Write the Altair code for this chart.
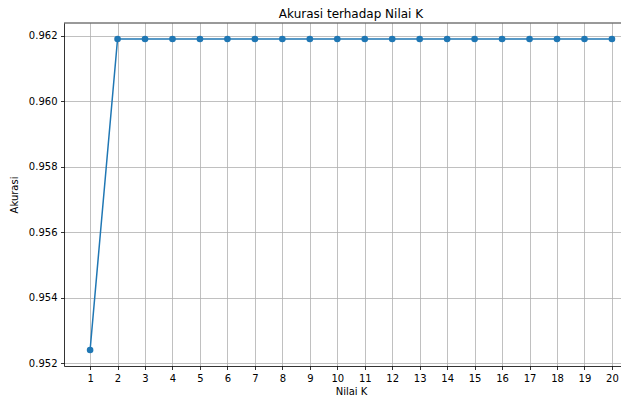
import altair as alt
import pandas as pd

title_text = ["Akurasi terhadap Nilai K"]
k_values = [1, 2, 3, 4, 5, 6, 7, 8, 9, 10, 11, 12, 13, 14, 15, 16, 17, 18, 19, 20]
accuracy = [0.9524, 0.9619, 0.9619, 0.9619, 0.9619, 0.9619, 0.9619, 0.9619, 0.9619, 0.9619,
            0.9619, 0.9619, 0.9619, 0.9619, 0.9619, 0.9619, 0.9619, 0.9619, 0.9619, 0.9619]
y_ticks = [0.952, 0.954, 0.956, 0.958, 0.960, 0.962]

df = pd.DataFrame({"K": k_values, "Akurasi": accuracy})

FONT = "DejaVu Sans"
W, H = 557, 343

x = alt.X("K:Q", title="Nilai K",
          scale=alt.Scale(domain=[0.05, 20.33], nice=False, zero=False),
          axis=alt.Axis(values=k_values, format="d", grid=True, labelFlush=False,
                        titlePadding=3, titleX=287))
y = alt.Y("Akurasi:Q", title="Akurasi",
          scale=alt.Scale(domain=[0.95191, 0.96239], nice=False, zero=False),
          axis=alt.Axis(values=y_ticks, format=".3f", grid=True, labelFlush=False,
                        titlePadding=9))

base = alt.Chart(df).encode(x=x, y=y)
line = base.mark_line(color="#1f77b4", strokeWidth=1.5, clip=True)
pts = base.mark_point(color="#1f77b4", filled=True, opacity=1, size=44, clip=True)
top_spine = alt.Chart(pd.DataFrame({"s": [0]})).mark_rule(color="black", strokeWidth=0.8).encode(
    x=alt.value(0), x2=alt.value(W), y=alt.value(0))
title = alt.Chart(pd.DataFrame({"t": title_text})).mark_text(
    font=FONT, fontSize=12, color="black", align="center", baseline="alphabetic"
).encode(text="t:N", x=alt.value(287), y=alt.value(-5))

chart = (line + pts + top_spine + title).properties(
    width=W, height=H,
    autosize=alt.AutoSizeParams(type="none"),
    padding={"left": 56, "top": 15, "right": 0, "bottom": 32},
).configure_axis(
    gridColor="#b0b0b0", gridWidth=0.8, gridOpacity=1,
    domainColor="black", domainWidth=0.8,
    tickColor="black", tickSize=3.5, tickWidth=0.8,
    labelFont=FONT, labelFontSize=10, labelColor="black", labelPadding=3.5,
    titleFont=FONT, titleFontSize=10, titleFontWeight="normal", titleColor="black",
).configure_view(stroke=None)

chart.save("out.html", embed_options={"renderer": "svg", "actions": False})
